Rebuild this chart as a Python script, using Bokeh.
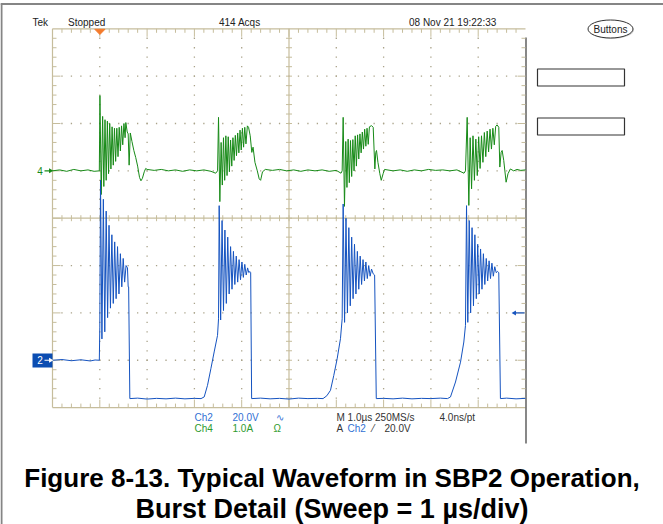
import numpy as np
from bokeh.plotting import figure
from bokeh.models import Range1d
from bokeh.core.properties import value
from bokeh.embed import file_html
from bokeh.resources import INLINE

# ---------------- data ----------------
# Ch2: switch-node voltage, 20 V/div, ground marker at -3 div
ch2_time_us = [
    -1.00, -0.80, -0.60, -0.40, -0.20, -0.10, -0.01,
    0.000, 0.015, 0.045, 0.075, 0.105, 0.135, 0.165, 0.195, 0.225, 0.255, 0.285, 0.315,
    0.345, 0.375, 0.405, 0.435, 0.465, 0.495, 0.525, 0.555, 0.585, 0.600,
    0.610, 0.635,
    0.80, 1.00, 1.20, 1.40, 1.60, 1.80, 2.00, 2.14,
    2.207, 2.277, 2.348, 2.418, 2.489, 2.510, 2.524,
    2.555, 2.585, 2.615, 2.645, 2.675, 2.705, 2.735, 2.765, 2.795, 2.825, 2.855, 2.885,
    2.915, 2.945, 2.975, 3.005, 3.035, 3.065, 3.095, 3.125, 3.150, 3.175,
    3.190, 3.210,
    3.40, 3.60, 3.80, 4.00, 4.20, 4.40, 4.60, 4.72,
    4.800, 4.877, 4.947, 5.018, 5.088, 5.124, 5.145,
    5.175, 5.205, 5.235, 5.265, 5.295, 5.325, 5.355, 5.385, 5.415, 5.445, 5.475, 5.505,
    5.535, 5.565, 5.595, 5.625, 5.655, 5.685, 5.715, 5.745, 5.780,
    5.810, 5.845,
    6.00, 6.20, 6.40, 6.60, 6.80, 7.00, 7.20, 7.35,
    7.414, 7.520, 7.626, 7.696, 7.731, 7.753,
    7.780, 7.810, 7.840, 7.870, 7.900, 7.930, 7.960, 7.990, 8.020, 8.050, 8.080, 8.110,
    8.140, 8.170, 8.200, 8.230, 8.260, 8.290, 8.320, 8.350, 8.380, 8.410,
    8.435, 8.470,
    8.60, 8.80, 9.00,
]
ch2_volts = [
    0.0, 0.3, -0.2, 0.2, -0.3, 0.1, 0.0,
    14.0, 76.0, 9.0, 68.0, 12.0, 63.0, 18.0, 57.0, 22.0, 53.0, 24.0, 50.0,
    26.0, 48.0, 28.0, 45.0, 31.0, 43.0, 33.0, 40.0, 39.0, 31.0,
    31.0, -16.2,
    -16.0, -16.4, -16.1, -16.3, -16.0, -16.3, -16.1, -16.2,
    -15.5, -10.6, -3.6, 3.5, 10.5, 17.5, 65.3,
    17.0, 59.0, 21.0, 55.0, 24.0, 52.0, 28.0, 48.0, 30.0, 46.0, 32.0, 44.0,
    33.0, 42.5, 34.0, 41.5, 35.0, 40.5, 36.0, 39.0, 37.0, 37.5,
    37.0, -16.2,
    -16.0, -16.3, -16.1, -16.4, -16.0, -16.2, -16.1, -16.2,
    -15.0, -12.7, -6.4, 0.6, 9.1, 17.5, 66.0,
    16.0, 60.0, 20.0, 56.0, 23.0, 52.0, 26.0, 49.0, 28.0, 46.0, 30.0, 44.0,
    32.0, 42.5, 33.5, 41.5, 34.5, 40.0, 35.5, 38.5, 36.5,
    36.0, -16.2,
    -16.1, -16.3, -16.0, -16.3, -16.1, -16.2, -16.0, -16.2,
    -15.5, -9.2, -0.8, 7.7, 14.7, 65.3,
    16.0, 59.0, 20.0, 56.0, 23.0, 53.0, 26.0, 49.0, 28.0, 47.0, 30.0, 45.0,
    32.0, 43.0, 33.5, 42.0, 34.5, 41.0, 35.5, 39.5, 37.0, 37.5,
    37.0, -16.2,
    -16.0, -16.3, -16.1,
]

# Ch4: inductor current, 1.0 A/div, ground marker at +1 div
ch4_time_us = [
    -1.00, -0.85, -0.70, -0.55, -0.40, -0.25, -0.12, -0.01,
    0.003, 0.030,
    0.060, 0.085, 0.110, 0.135, 0.160, 0.185, 0.210, 0.235, 0.260, 0.285, 0.310,
    0.335, 0.360, 0.385, 0.410, 0.435, 0.460, 0.485, 0.510, 0.535, 0.550,
    0.580, 0.600, 0.620, 0.645, 0.680, 0.720, 0.760, 0.800, 0.840, 0.870, 0.900, 0.940, 0.970, 1.000,
    1.15, 1.30, 1.45, 1.60, 1.75, 1.90, 2.05, 2.20, 2.35, 2.45, 2.49,
    2.510, 2.538,
    2.565, 2.590, 2.615, 2.640, 2.665, 2.690, 2.715, 2.740, 2.765, 2.790, 2.815, 2.840,
    2.865, 2.890, 2.915, 2.940, 2.965, 2.990, 3.015, 3.040, 3.065, 3.090, 3.120, 3.145,
    3.180, 3.214, 3.240, 3.280, 3.330, 3.370, 3.400, 3.440, 3.500,
    3.65, 3.80, 3.95, 4.10, 4.25, 4.40, 4.55, 4.70, 4.85, 5.00, 5.10, 5.124,
    5.145, 5.173,
    5.200, 5.225, 5.250, 5.275, 5.300, 5.325, 5.350, 5.375, 5.400, 5.425, 5.450, 5.475,
    5.500, 5.525, 5.550, 5.575, 5.600, 5.625, 5.650, 5.675, 5.700, 5.745, 5.780,
    5.815, 5.835, 5.850, 5.880, 5.920, 5.950, 5.990, 6.020,
    6.20, 6.35, 6.50, 6.65, 6.80, 6.95, 7.10, 7.25, 7.40, 7.55, 7.70, 7.731,
    7.767, 7.802,
    7.830, 7.860, 7.890, 7.920, 7.950, 7.980, 8.010, 8.040, 8.070, 8.100, 8.130,
    8.160, 8.190, 8.220, 8.250, 8.280, 8.310, 8.340, 8.370, 8.400, 8.435,
    8.457, 8.485, 8.506, 8.540, 8.590, 8.630, 8.680, 8.750, 8.820, 8.900, 9.000,
]
ch4_amps = [
    0.00, 0.02, -0.01, 0.03, 0.00, 0.02, -0.01, 0.00,
    1.59, -0.50,
    1.15, -0.33, 1.08, -0.20, 1.05, -0.06, 1.00, 0.04, 0.93, 0.12, 0.90,
    0.20, 0.90, 0.30, 0.92, 0.42, 0.95, 0.55, 1.00, 0.70, 1.02,
    0.82, 0.78, 0.12, 0.80, 0.62, 0.43, 0.28, 0.10, -0.14, -0.21, -0.16, -0.02, 0.05, 0.03,
    0.01, 0.03, 0.00, 0.02, -0.01, 0.02, 0.00, 0.02, -0.01, -0.05, 0.00,
    1.13, -0.65,
    0.60, -0.30, 0.70, -0.20, 0.74, -0.10, 0.72, -0.02, 0.65, 0.10, 0.70, 0.22,
    0.75, 0.32, 0.80, 0.38, 0.86, 0.44, 0.90, 0.50, 0.92, 0.57, 0.95, 0.92,
    0.74, 0.39, 0.50, 0.18, 0.00, -0.17, -0.20, -0.02, 0.03,
    0.01, 0.03, 0.00, 0.02, -0.01, 0.02, 0.00, 0.02, -0.01, 0.01, -0.05, 0.00,
    1.13, -0.75,
    0.62, -0.35, 0.67, -0.25, 0.64, -0.12, 0.66, 0.00, 0.74, 0.10, 0.76, 0.25,
    0.78, 0.38, 0.82, 0.46, 0.88, 0.52, 0.90, 0.56, 0.93, 0.955, 0.92,
    0.04, 0.39, 0.43, 0.18, -0.06, -0.20, -0.06, 0.03,
    0.00, 0.02, -0.01, 0.02, 0.00, 0.03, 0.01, 0.02, 0.00, 0.02, -0.05, 0.00,
    1.13, -0.73,
    0.70, -0.38, 0.74, -0.20, 0.67, -0.10, 0.72, 0.05, 0.74, 0.18, 0.81,
    0.30, 0.84, 0.40, 0.88, 0.46, 0.90, 0.55, 0.94, 0.97, 0.92,
    0.08, 0.39, 0.43, 0.22, -0.24, -0.06, 0.04, 0.00, 0.03, 0.01, 0.02,
]
assert len(ch2_time_us) == len(ch2_volts)
assert len(ch4_time_us) == len(ch4_amps)

CH2_V_PER_DIV = 20.0
CH2_POS_DIV = -3.0
CH4_A_PER_DIV = 1.0
CH4_POS_DIV = 1.0
TRIG_LEVEL_V = 20.0

header_texts = ["Tek", "Stopped", "414 Acqs", "08 Nov 21 19:22:33"]
caption_lines = ["Figure 8-13. Typical Waveform in SBP2 Operation,",
                 "Burst Detail (Sweep = 1 \u00b5s/div)"]

# ---------------- geometry ----------------
W, H = 663, 524
PXX = 47.3     # px per us (1 div)
PXY = 47.35    # px per div
OFF = 0        # figure origin in the photographed page
x0 = -1 - (52 - OFF) / PXX
x1 = x0 + W / PXX
y1 = (217.7 - OFF) / PXY
y0 = y1 - H / PXY


def X(px):
    return x0 + (px - OFF) / PXX


def Y(py):
    return y1 - (py - OFF) / PXY


p = figure(width=W, height=H, x_range=Range1d(x0, x1), y_range=Range1d(y0, y1),
           output_backend="svg", toolbar_location=None, min_border=0,
           x_axis_location=None, y_axis_location=None, outline_line_color=None,
           background_fill_color="white", border_fill_color="white")
p.grid.visible = False

TAN = "#c6bd9c"
DOT = "#aaa38a"

# outer grey frame of the screenshot
p.segment(x0=[X(0), X(1)], y0=[Y(3.5), Y(3)], x1=[X(663), X(1)], y1=[Y(3.5), Y(524)],
          line_color="#858585", line_width=2)

minor_t = np.round(np.arange(-1, 9.0001, 0.2), 3)
minor_y = np.round(np.arange(-4, 4.0001, 0.2), 3)
major_t = [0, 1, 2, 3, 5, 6, 7, 8]
major_y = [-3, -2, -1, 1, 2, 3]

# dotted graticule
dx, dy = [], []
for t in major_t:
    for yy in minor_y[1:-1]:
        dx.append(t); dy.append(yy)
for yy in major_y:
    for t in minor_t[1:-1]:
        dx.append(t); dy.append(yy)
p.rect(dx, dy, width=1.3, height=1.3, width_units="screen", height_units="screen",
       fill_color=DOT, line_color=None)

# edges and centre cross
p.segment(x0=[-1, -1, -1, 4, -1], y0=[-4, 4, -4, -4, 0], x1=[-1, 9, 9, 4, 9], y1=[4, 4, -4, 4, 0],
          line_color=TAN, line_width=1.2)
p.segment(x0=[9 + 0.5 / PXX], y0=[Y(37)], x1=[9 + 0.5 / PXX], y1=[Y(443)],
          line_color="#555555", line_width=1.4)

sx0, sy0, sx1, sy1 = [], [], [], []
for t in minor_t[1:-1]:
    L = (8 if abs(t - round(t)) < 1e-6 else 4)
    sx0 += [t, t]; sx1 += [t, t]
    sy0 += [4, -4]; sy1 += [4 - L / PXY, -4 + L / PXY]
    sx0.append(t); sx1.append(t); sy0.append(-3 / PXY); sy1.append(3 / PXY)
for yy in minor_y[1:-1]:
    L = (8 if abs(yy - round(yy)) < 1e-6 else 4)
    sy0 += [yy, yy]; sy1 += [yy, yy]
    sx0 += [-1, 9]; sx1 += [-1 + L / PXX, 9 - L / PXX]
    sy0.append(yy); sy1.append(yy); sx0.append(4 - 3 / PXX); sx1.append(4 + 3 / PXX)
p.segment(x0=sx0, y0=sy0, x1=sx1, y1=sy1, line_color=TAN, line_width=1)

# ---------------- traces ----------------
ch4_y = [CH4_POS_DIV + a / CH4_A_PER_DIV for a in ch4_amps]
ch2_y = [CH2_POS_DIV + v / CH2_V_PER_DIV for v in ch2_volts]
p.line(ch4_time_us, ch4_y, line_color="#178a17", line_width=1.0)
p.line(ch2_time_us, ch2_y, line_color="#1553c0", line_width=1.0)

# ---------------- markers ----------------
# trigger position
p.patch([X(94.3), X(104.5), X(99.4)], [Y(28.8), Y(28.8), Y(34)], color="#f47b2c")
# ch4 marker
p.text([X(39.5)], [CH4_POS_DIV], text=["4"], text_font=value("Liberation Sans"),
       text_font_size="10px", text_color="#178a17", text_align="center", text_baseline="middle")
p.segment([X(44)], [CH4_POS_DIV], [X(50)], [CH4_POS_DIV], line_color="#178a17", line_width=1.2)
p.scatter([X(50)], [CH4_POS_DIV], marker="triangle", size=5, angle=-np.pi / 2,
          fill_color="#178a17", line_color=None)
# ch2 marker
p.quad(left=[X(32)], right=[X(52)], top=[Y(353)], bottom=[Y(367)], fill_color="#0b4db2",
       line_color=None)
p.text([X(39.5)], [CH2_POS_DIV], text=["2"], text_font=value("Liberation Sans"),
       text_font_size="10px", text_color="white", text_align="center", text_baseline="middle")
p.segment([X(44)], [CH2_POS_DIV], [X(50)], [CH2_POS_DIV], line_color="white", line_width=1.2)
p.scatter([X(50)], [CH2_POS_DIV], marker="triangle", size=5, angle=-np.pi / 2,
          fill_color="white", line_color=None)
# trigger level arrow
trig_y = CH2_POS_DIV + TRIG_LEVEL_V / CH2_V_PER_DIV
p.segment([X(514)], [trig_y], [X(524)], [trig_y], line_color="#1553c0", line_width=1.2)
p.scatter([X(514)], [trig_y], marker="triangle", size=5, angle=np.pi / 2,
          fill_color="#1553c0", line_color=None)

# ---------------- right-hand panel ----------------
p.ellipse([X(611)], [Y(29.5)], width=45, height=18, width_units="screen", height_units="screen",
          fill_color="#d8d8d8", line_color=None)
p.ellipse([X(610)], [Y(28.5)], width=45, height=18, width_units="screen", height_units="screen",
          fill_color="white", line_color="#333333", line_width=1)
p.text([X(610)], [Y(29)], text=["Buttons"], text_font=value("Liberation Sans"),
       text_font_size="10px", text_color="#222222", text_align="center", text_baseline="middle")
p.quad(left=[X(537), X(537)], right=[X(624), X(624)], top=[Y(68.5), Y(117.5)],
       bottom=[Y(85.5), Y(134.5)], fill_color="white", line_color="#333333", line_width=1.2)

# ---------------- header & readouts ----------------
FONT = value("Liberation Sans")
p.text([X(32), X(67.5), X(218.5), X(408.5)], [Y(21.5)] * 4, text=header_texts,
       text_font=FONT, text_font_size="10px", text_color="#222222",
       text_align="left", text_baseline="middle")

BLUE_T = "#3170d4"
GREEN_T = "#2e9a2e"
p.text([X(194), X(232), X(275)], [Y(416.5)] * 3, text=["Ch2", "20.0V", "\u223f"],
       text_font=FONT, text_font_size="10px", text_color=BLUE_T,
       text_align="left", text_baseline="middle")
p.text([X(194), X(232), X(273)], [Y(428)] * 3, text=["Ch4", "1.0A", "\u03a9"],
       text_font=FONT, text_font_size="10px", text_color=GREEN_T,
       text_align="left", text_baseline="middle")
p.text([X(336), X(439), X(336), X(372), X(384)], [Y(416.5), Y(416.5), Y(428), Y(428), Y(428)],
       text=["M 1.0\u00b5s 250MS/s", "4.0ns/pt", "A", "\u2044", "20.0V"],
       text_font=FONT, text_font_size="10px", text_color="#333333",
       text_align="left", text_baseline="middle")
p.text([X(347)], [Y(428)], text=["Ch2"], text_font=FONT, text_font_size="10px",
       text_color=BLUE_T, text_align="left", text_baseline="middle")

# ---------------- caption ----------------
p.text([X(331.5)], [Y(477)], text=[caption_lines[0]],
       text_font=FONT, text_font_size="26px", text_font_style="bold",
       text_color="#000000", text_align="center", text_baseline="alphabetic")
p.text([X(331.5)], [Y(508)], text=[caption_lines[1]],
       text_font=FONT, text_font_size="27px", text_font_style="bold",
       text_color="#000000", text_align="center", text_baseline="alphabetic")

with open("out.html", "w", encoding="utf-8") as f:
    f.write(file_html(p, INLINE))
